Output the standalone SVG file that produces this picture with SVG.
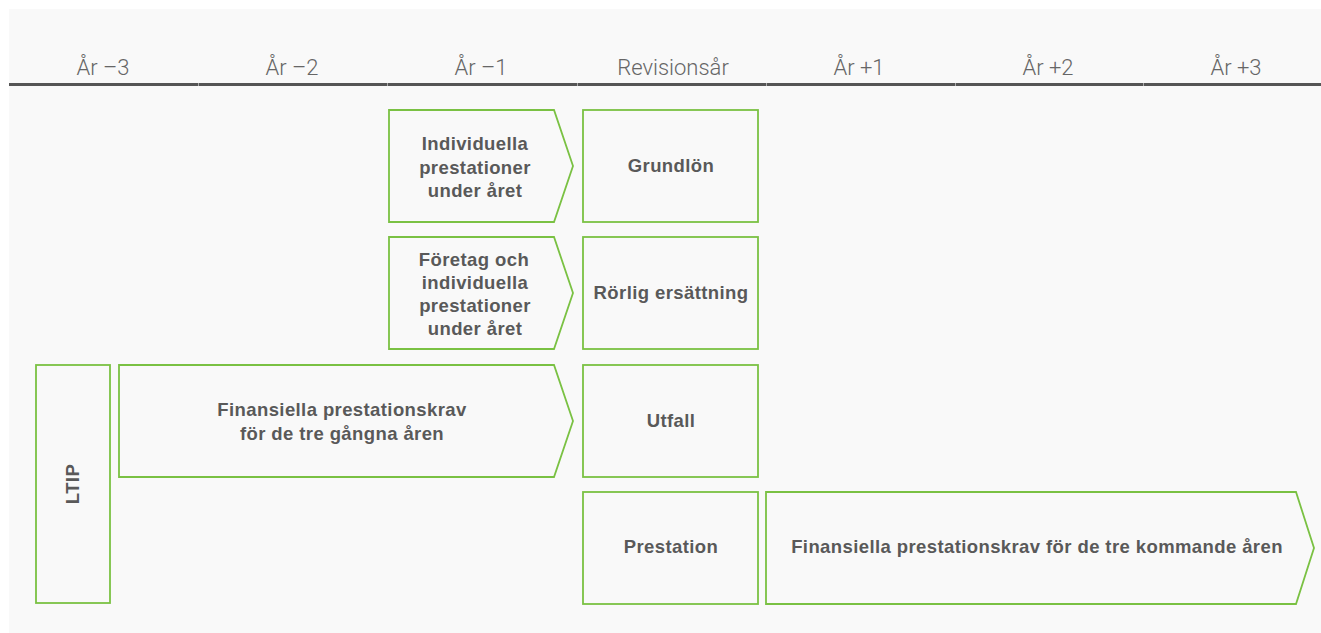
<svg xmlns="http://www.w3.org/2000/svg" width="1321" height="633" viewBox="0 0 1321 633">
<style>
.hdr{font-family:Roboto,"Liberation Sans",sans-serif;font-weight:300;font-size:22px;fill:#666;text-anchor:middle}
.box{fill:none;stroke:#7ac143;stroke-width:1.8}
.lbl{font-family:"Liberation Sans",Arial,sans-serif;font-weight:bold;font-size:18.5px;fill:#595959;text-anchor:middle;letter-spacing:0.4px}
.sep{fill:#aaa}
</style>
<rect x="0" y="0" width="1321" height="633" fill="#ffffff"/>
<rect x="9" y="9" width="1312" height="624" fill="#f9f9f9"/>
<g id="header">
<text class="hdr" x="103" y="75">År –3</text>
<text class="hdr" x="292" y="75">År –2</text>
<text class="hdr" x="481" y="75">År –1</text>
<text class="hdr" x="673" y="75">Revisionsår</text>
<text class="hdr" x="859" y="75">År +1</text>
<text class="hdr" x="1048" y="75">År +2</text>
<text class="hdr" x="1236" y="75">År +3</text>
<rect x="9" y="83" width="1312" height="3" fill="#555"/>
<rect class="sep" x="198" y="83" width="1" height="3"/>
<rect class="sep" x="387" y="83" width="1" height="3"/>
<rect class="sep" x="577" y="83" width="1" height="3"/>
<rect class="sep" x="766" y="83" width="1" height="3"/>
<rect class="sep" x="955" y="83" width="1" height="3"/>
<rect class="sep" x="1143" y="83" width="1" height="3"/>
</g>
<g id="connectors"></g>
<g id="ind-prest">
<polygon class="box" points="389,110 554,110 573,166 554,222 389,222"/>
<text class="lbl" x="475" y="150">Individuella</text>
<text class="lbl" x="475" y="174">prestationer</text>
<text class="lbl" x="475" y="197">under året</text>
</g>
<g id="grundlon">
<rect class="box" x="583" y="110" width="175" height="112"/>
<text class="lbl" x="671" y="172">Grundlön</text>
</g>
<g id="foretag-prest">
<polygon class="box" points="389,237 554,237 573,293 554,349 389,349"/>
<text class="lbl" x="474" y="266">Företag och</text>
<text class="lbl" x="475" y="289">individuella</text>
<text class="lbl" x="475" y="312">prestationer</text>
<text class="lbl" x="475" y="335">under året</text>
</g>
<g id="rorlig">
<rect class="box" x="583" y="237" width="175" height="112"/>
<text class="lbl" x="671" y="299">Rörlig ersättning</text>
</g>
<g id="ltip">
<rect class="box" x="36" y="365" width="74" height="238"/>
<text class="lbl" x="0" y="0" transform="translate(79,484) rotate(-90)">LTIP</text>
</g>
<g id="fin-gangna">
<polygon class="box" points="119,365 554,365 573,421 554,477 119,477"/>
<text class="lbl" x="342" y="416">Finansiella prestationskrav</text>
<text class="lbl" x="342" y="440">för de tre gångna åren</text>
</g>
<g id="utfall">
<rect class="box" x="583" y="365" width="175" height="112"/>
<text class="lbl" x="671" y="427">Utfall</text>
</g>
<g id="prestation">
<rect class="box" x="583" y="492" width="175" height="112"/>
<text class="lbl" x="671" y="553">Prestation</text>
</g>
<g id="fin-kommande">
<polygon class="box" points="766,492 1296,492 1314,548 1296,604 766,604"/>
<text class="lbl" x="1037" y="553">Finansiella prestationskrav för de tre kommande åren</text>
</g>
</svg>
